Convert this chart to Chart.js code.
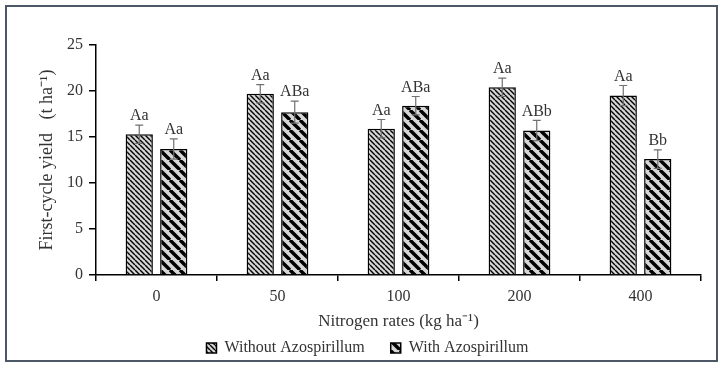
<!DOCTYPE html>
<html>
<head>
<meta charset="utf-8">
<script src="https://cdn.jsdelivr.net/npm/chart.js@4.4.1/dist/chart.umd.min.js"></script>
<style>
  body { margin: 0; background: #fff; }
  canvas { display: block; }
</style>
</head>
<body>
<canvas id="myChart" width="725" height="368"></canvas>
<script>
// nitrogen rates on the x axis
const nitrogenRates = ['0', '50', '100', '200', '400']

// first-cycle yield (t ha-1)
const withoutAzo = [15.3, 19.7, 15.9, 20.4, 19.5]
const withAzo = [13.7, 17.7, 18.4, 15.7, 12.6]

// error bars
const withoutAzoErr = [1.0, 1.0, 1.0, 1.0, 1.1]
const withAzoErr = [1.1, 1.2, 1.0, 1.1, 1.0]

// letters above bars
const withoutAzoLetters = ['Aa', 'Aa', 'Aa', 'Aa', 'Aa']
const withAzoLetters = ['Aa', 'ABa', 'ABa', 'ABb', 'Bb']

const yTicks = [0, 5, 10, 15, 20, 25]

const serif = '"Liberation Serif", "Times New Roman", serif'
const textColor = '#333'

// hatch pattern, lines going like "\"
function makeHatch(size, lw) {
  const c = document.createElement('canvas')
  c.width = size
  c.height = size
  const g = c.getContext('2d')
  g.fillStyle = '#d6d6d6'
  g.fillRect(0, 0, size, size)
  g.strokeStyle = '#000'
  g.lineWidth = lw
  g.beginPath()
  for (let k = -1; k <= 1; k++) {
    g.moveTo(k * size, 0)
    g.lineTo(k * size + size, size)
  }
  g.stroke()
  return g.createPattern(c, 'repeat')
}

const thinHatch = makeHatch(5, 1.4)
const thickHatch = makeHatch(10, 3.4)

const errLetters = {
  id: 'errLetters',
  afterDatasetsDraw(chart) {
    const ctx = chart.ctx
    const yScale = chart.scales.y
    chart.data.datasets.forEach((ds, i) => {
      const meta = chart.getDatasetMeta(i)
      meta.data.forEach((bar, j) => {
        const v = ds.data[j]
        const e = ds.errors[j]
        const yTop = yScale.getPixelForValue(v + e)
        const yBot = yScale.getPixelForValue(v - e)
        ctx.save()
        ctx.strokeStyle = '#707070'
        ctx.lineWidth = 1.2
        ctx.beginPath()
        ctx.moveTo(bar.x, yTop)
        ctx.lineTo(bar.x, yBot)
        ctx.moveTo(bar.x - 4, yTop)
        ctx.lineTo(bar.x + 4, yTop)
        ctx.moveTo(bar.x - 4, yBot)
        ctx.lineTo(bar.x + 4, yBot)
        ctx.stroke()
        ctx.fillStyle = textColor
        ctx.font = '16px ' + serif
        ctx.textAlign = 'center'
        ctx.textBaseline = 'bottom'
        ctx.fillText(ds.letters[j], bar.x, yTop - 1)
        ctx.restore()
      })
    })
  }
}

const frame = {
  id: 'frame',
  afterDraw(chart) {
    const ctx = chart.ctx
    ctx.save()
    ctx.strokeStyle = '#4d5866'
    ctx.lineWidth = 2
    ctx.strokeRect(6, 6, 711, 355)
    ctx.restore()
  }
}

new Chart(document.getElementById('myChart'), {
  type: 'bar',
  data: {
    labels: nitrogenRates,
    datasets: [{
      label: 'Without Azospirillum',
      data: withoutAzo,
      errors: withoutAzoErr,
      letters: withoutAzoLetters,
      backgroundColor: thinHatch,
      borderColor: '#000',
      borderWidth: 1.5,
      categoryPercentage: 0.57,
      barPercentage: 0.79
    }, {
      label: 'With Azospirillum',
      data: withAzo,
      errors: withAzoErr,
      letters: withAzoLetters,
      backgroundColor: thickHatch,
      borderColor: '#000',
      borderWidth: 1.5,
      categoryPercentage: 0.57,
      barPercentage: 0.79
    }]
  },
  options: {
    responsive: false,
    animation: false,
    devicePixelRatio: 1,
    layout: { padding: { top: 45, right: 24, left: 34, bottom: 2 } },
    plugins: {
      legend: {
        position: 'bottom',
        labels: {
          boxWidth: 10,
          boxHeight: 10,
          padding: 6,
          color: textColor,
          font: { family: serif, size: 16 },
          // wider gap between the two items
          generateLabels: (chart) => Chart.defaults.plugins.legend.labels.generateLabels(chart)
            .map((item, i) => i === 0 ? { ...item, text: item.text + '     ' } : item)
        }
      },
      tooltip: { enabled: false }
    },
    scales: {
      x: {
        afterFit: (scale) => { scale.height = 59 },
        grid: { offset: true, drawOnChartArea: false, tickLength: 6, color: '#000', lineWidth: 1.5 },
        border: { color: '#000', width: 1.5 },
        ticks: { color: textColor, padding: 6, font: { family: serif, size: 16 } },
        title: {
          display: true,
          text: 'Nitrogen rates (kg ha⁻¹)',
          color: textColor,
          font: { family: serif, size: 17 },
          padding: { top: 0, bottom: 2 }
        }
      },
      y: {
        min: 0,
        max: 25,
        afterFit: (scale) => { scale.width = 62 },
        afterBuildTicks: (scale) => { scale.ticks = yTicks.map(v => ({ value: v })) },
        grid: { drawOnChartArea: false, tickLength: 7, color: '#000', lineWidth: 1.5 },
        border: { color: '#000', width: 1.5 },
        ticks: { color: textColor, padding: 6, font: { family: serif, size: 16 } },
        title: {
          display: true,
          text: 'First-cycle yield   (t ha⁻¹)',
          color: textColor,
          font: { family: serif, size: 18 },
          padding: { top: 2, bottom: 0 }
        }
      }
    }
  },
  plugins: [errLetters, frame]
})
</script>
</body>
</html>
